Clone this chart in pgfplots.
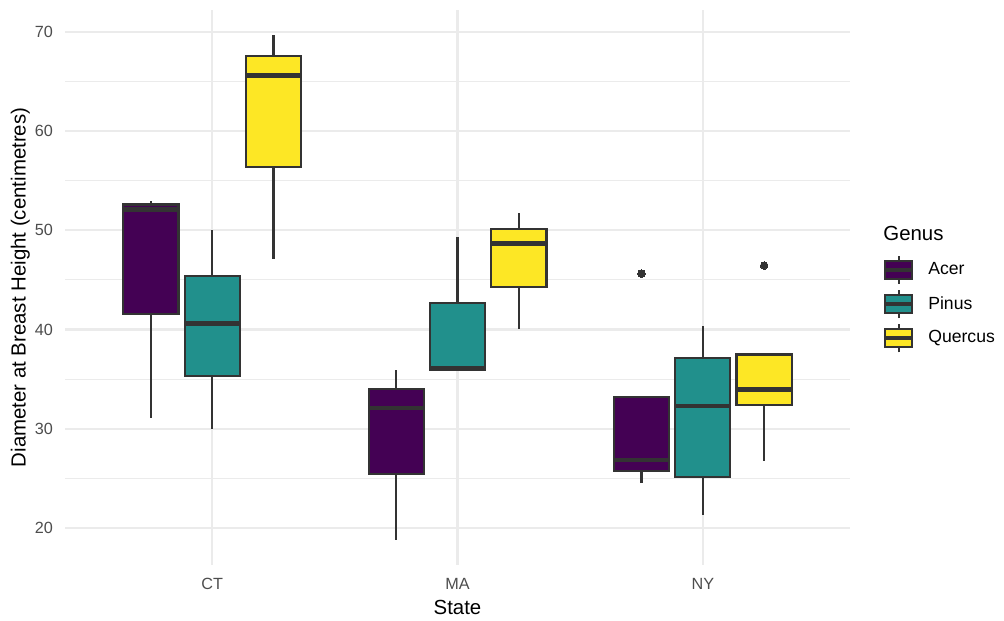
\documentclass[border=0pt]{standalone}
\usepackage{fontspec}
\setmainfont{Liberation Sans}
\usepackage{pgfplots}
\pgfplotsset{compat=1.18}
\definecolor{acer}{HTML}{440154}
\definecolor{pinus}{HTML}{21908C}
\definecolor{quercus}{HTML}{FDE725}
\definecolor{grey20}{HTML}{333333}
\definecolor{grey30}{HTML}{4D4D4D}
\definecolor{grey92}{HTML}{EBEBEB}
\pgfplotsset{
  boxkey/.style={legend image code/.code={
    \path[draw=none,fill=none] (0pt,-8.55pt) rectangle (21.5pt,8.55pt);
    \draw[line width=1.07pt, draw=grey20] (6.65pt,-7pt) -- (6.65pt,7pt);
    \draw[line width=1.07pt, draw=grey20, fill=#1] (0pt,-4.5pt) rectangle (13.3pt,4.5pt);
    \draw[line width=2.13pt, draw=grey20] (0pt,0pt) -- (13.3pt,0pt);
  }},
}
% #1 left, #2 centre, #3 right, #4 lower whisker, #5 lower quartile,
% #6 median, #7 upper quartile, #8 upper whisker, #9 fill colour
\newcommand\gbox[9]{%
  \addplot[forget plot, draw=grey20, line width=1.07pt] coordinates {(#2,#4) (#2,#5)};
  \addplot[forget plot, draw=grey20, line width=1.07pt] coordinates {(#2,#7) (#2,#8)};
  \addplot[forget plot, draw=grey20, fill=#9, line width=1.07pt] coordinates {(#1,#5) (#3,#5) (#3,#7) (#1,#7)} -- cycle;
  \addplot[forget plot, draw=grey20, line width=2.13pt] coordinates {(#1,#6) (#3,#6)};
}
\begin{document}
\begin{tikzpicture}
\useasboundingbox (0,0) rectangle (502pt,310pt);
\begin{axis}[
  at={(32.5pt,27.5pt)}, anchor=south west,
  scale only axis, width=392.5pt, height=277.5pt,
  xmin=0.4, xmax=3.6, ymin=16.26, ymax=72.2,
  xtick={1,2,3}, xticklabels={CT,MA,NY},
  ytick={20,30,40,50,60,70},
  minor ytick={25,35,45,55,65},
  xmajorgrids, ymajorgrids, yminorgrids,
  major grid style={draw=grey92, line width=1.07pt},
  minor grid style={draw=grey92, line width=0.53pt},
  axis line style={draw=none},
  major tick style={draw=none}, minor tick style={draw=none},
  /pgf/number format/assume math mode=true,
  yticklabel style={anchor=east, inner sep=0pt, xshift=-5.8pt, text=grey30, font=\fontsize{8.1}{9}\selectfont},
  xticklabel style={anchor=base, inner sep=0pt, yshift=-12.25pt, text=grey30, font=\fontsize{8.1}{9}\selectfont},
  xlabel={State},
  ylabel={Diameter at Breast Height (centimetres)},
  xlabel style={at={(axis description cs:0.5,-0.0883)}, anchor=base, inner sep=0pt, font=\fontsize{10.2}{12}\selectfont},
  ylabel style={at={(axis description cs:-0.0503,0.5)}, anchor=base, rotate=0, inner sep=0pt, font=\fontsize{10.2}{12}\selectfont},
  legend style={at={(axis description cs:1.0423,0.4700)}, anchor=west, draw=none, fill=none,
    inner sep=0pt, outer sep=0pt, row sep=0pt, column sep=0pt,
    nodes={inner sep=0pt, font=\fontsize{8.8}{10}\selectfont}},
  legend cell align=left,
  clip=false,
]
\addlegendimage{boxkey=acer}
\addlegendentry{Acer}
\addlegendimage{boxkey=pinus}
\addlegendentry{Pinus}
\addlegendimage{boxkey=quercus}
\addlegendentry{Quercus}

% CT
\gbox{0.6375}{0.75}{0.8625}{31.1}{41.6}{52.1}{52.6}{52.97}{acer}
\gbox{0.8875}{1.00}{1.1125}{30.0}{35.3}{40.6}{45.4}{50.0}{pinus}
\gbox{1.1375}{1.25}{1.3625}{47.15}{56.4}{65.6}{67.6}{69.66}{quercus}
% MA
\gbox{1.6375}{1.75}{1.8625}{18.8}{25.4}{32.1}{34.0}{35.9}{acer}
\gbox{1.8875}{2.00}{2.1125}{35.9}{35.9}{36.1}{42.66}{49.3}{pinus}
\gbox{2.1375}{2.25}{2.3625}{40.07}{44.3}{48.66}{50.1}{51.76}{quercus}
% NY
\gbox{2.6375}{2.75}{2.8625}{24.5}{25.7}{26.83}{33.2}{33.2}{acer}
\gbox{2.8875}{3.00}{3.1125}{21.3}{25.1}{32.25}{37.1}{40.3}{pinus}
\gbox{3.1375}{3.25}{3.3625}{26.75}{32.4}{33.96}{37.47}{37.47}{quercus}
% outliers
\addplot[forget plot, only marks, mark=*, mark size=1.9pt, mark options={fill=grey20, draw=grey20, line width=0pt}]
  coordinates {(2.75,45.63) (3.25,46.44)};

\node[anchor=west, inner sep=0pt, font=\fontsize{10.2}{12}\selectfont] at (axis description cs:1.042,0.5977) {Genus};
\end{axis}
\end{tikzpicture}
\end{document}
